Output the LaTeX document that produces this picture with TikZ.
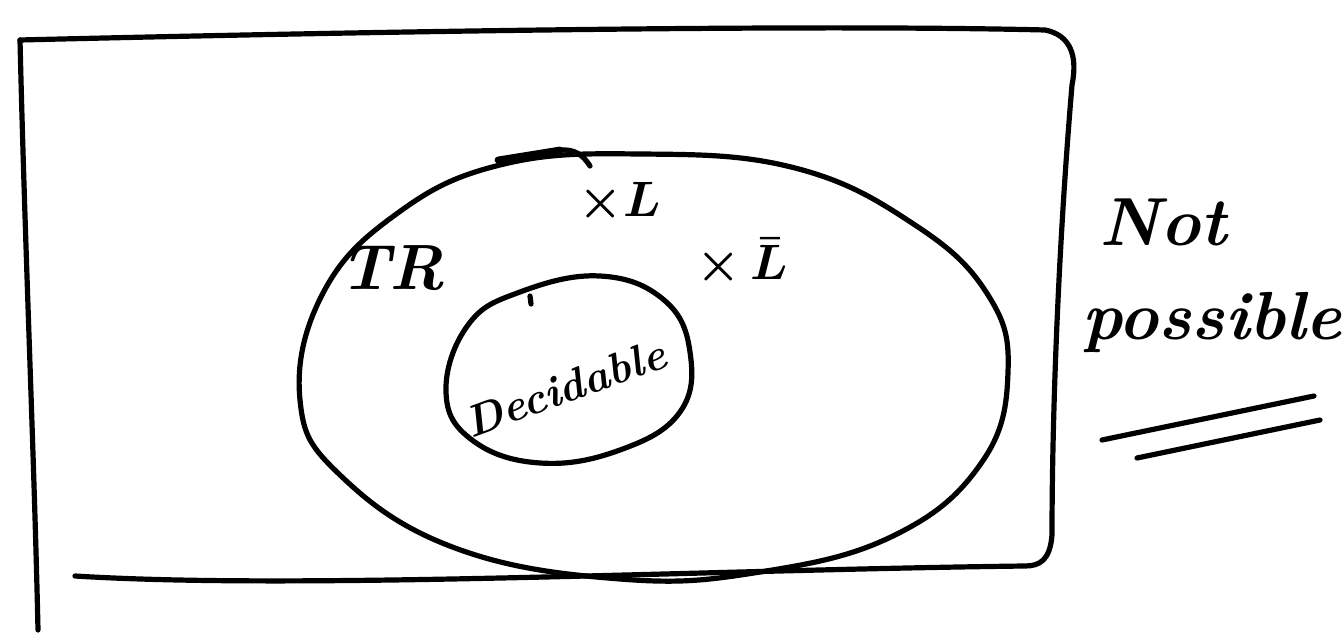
\documentclass[tikz,border=0pt]{standalone}
\begin{document}
\begin{tikzpicture}[x=0.5pt,y=-0.5pt,
  ink/.style={line width=2.6pt,line cap=round,line join=round},
  hand/.style={font=\boldmath\bfseries\itshape\fontsize{32}{34}\selectfont},
  small/.style={font=\bfseries\itshape\fontsize{22}{24}\selectfont},
  big/.style={font=\bfseries\itshape\fontsize{34}{40}\selectfont}]
\useasboundingbox (0,0) rectangle (1343,635);
% outer hand-drawn box
\draw[ink] (20,40) .. controls (25,250) and (34,450) .. (38,630);
\draw[ink] (20,40) .. controls (350,32) and (800,24) .. (1045,30)
  .. controls (1070,35) and (1078,55) .. (1072,85)
  .. controls (1058,250) and (1052,420) .. (1052,535)
  .. controls (1050,560) and (1040,566) .. (1025,566)
  .. controls (700,570) and (300,590) .. (75,576);
% outer ellipse (hand drawn)
\draw[ink] plot[smooth cycle, tension=0.7] coordinates {
  (300,400) (322,295) (395,215) (500,165) (640,154) (795,168) (915,225)
  (988,295) (1008,372) (982,462) (895,535) (760,572) (620,579) (455,548) (340,475)};
\draw[ink,line width=3.4pt] (498,160) -- (560,150);
\draw[ink] (560,150) .. controls (575,149) and (583,155) .. (590,166);
% inner ellipse (hand drawn)
\draw[ink] plot[smooth cycle, tension=0.7] coordinates {
  (446,392) (468,325) (520,292) (600,276) (664,300) (690,352) (680,412)
  (620,450) (540,463) (472,440)};
\draw[ink] (530,296) -- (531,304);
% labels
\node[hand] (tr) at (392,268) {TR};
\node[hand] (xl) at (620,203) {$\times L$};
\node[hand] (xlbar) at (742,262) {$\times\,\bar{L}$};
\node[small,rotate=20] (dec) at (565,388) {Decidable};
\node[big] (not) at (1163,222) {Not};
\node[big] (pos) at (1212,322) {possible};
\draw[ink] (1102,440) -- (1314,396);
\draw[ink] (1137,458) -- (1320,420);
\end{tikzpicture}
\end{document}
